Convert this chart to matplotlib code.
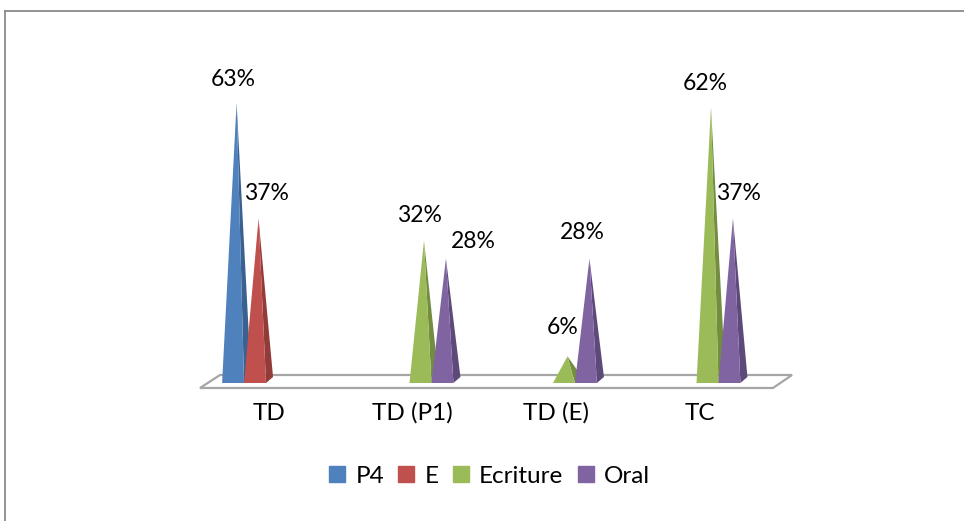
import numpy as np
import matplotlib.pyplot as plt
from matplotlib.patches import Polygon
from matplotlib.lines import Line2D

plt.rcParams['font.family'] = ['Lato', 'DejaVu Sans']

# Data
categories = ['TD', 'TD (P1)', 'TD (E)', 'TC']
series_names = ['P4', 'E', 'Ecriture', 'Oral']
p4 = [63, np.nan, np.nan, np.nan]
e = [37, np.nan, np.nan, np.nan]
ecriture = [np.nan, 32, 6, 62]
oral = [np.nan, 28, 28, 37]
values = [p4, e, ecriture, oral]

# Styles
face_colors = ['#4F81BD', '#C0504D', '#9BBB59', '#8064A2']
side_colors = ['#3A6190', '#923B39', '#738C40', '#5E4A7A']
slot = 0.153        # pyramid width in category units
depth_x = 0.049     # 3d depth offset (x, category units)
depth_y = 1.35      # 3d depth offset (y, percent units)

# label nudges in pixels (dx, dy above apex)
label_nudge = {
    (0, 0): (-3.5, 23), (1, 0): (8, 25),
    (2, 1): (-4.5, 25), (3, 1): (27, 17),
    (2, 2): (-5, 29), (3, 2): (-7, 26),
    (2, 3): (-6, 24), (3, 3): (5.5, 25),
}

fig = plt.figure(figsize=(9.64, 5.21), dpi=100)
ax = fig.add_axes([0, 0, 1, 1])
# pixel mapping: category 0 at x=266 px, 143.5 px per category,
# baseline at y=383 px, 4.45 px per percent
px_per_cat = 143.5
px_per_pct = 4.45
ax.set_xlim(-266 / px_per_cat, (964 - 266) / px_per_cat)
ax.set_ylim(-(521 - 383) / px_per_pct, 383 / px_per_pct)
ax.axis('off')

# outer border
fig.add_artist(Line2D([5 / 964, 5 / 964], [0, 1 - 11 / 521], color='#8A8A8A', lw=1.3))
fig.add_artist(Line2D([5 / 964, 1], [1 - 11 / 521, 1 - 11 / 521], color='#8A8A8A', lw=1.3))

# floor
n = len(categories)
floor = Polygon([(-0.46, -1.12), (-0.32, 1.8), (n - 1 + 0.666, 1.8), (n - 1 + 0.533, -1.12)],
                closed=True, facecolor='white', edgecolor='#A6A6A6', lw=1.6, zorder=1)
ax.add_patch(floor)

# pyramids
for j, vals in enumerate(values):
    for i, v in enumerate(vals):
        if np.isnan(v):
            continue
        x0 = i + (j - 2) * slot
        x1 = x0 + slot
        apex = ((x0 + x1) / 2 + depth_x / 2, v)
        z = 2 + i * 4 + j
        side = Polygon([(x1, 0), (x1 + depth_x, depth_y), apex], closed=True,
                       facecolor=side_colors[j], edgecolor='none', zorder=z)
        front = Polygon([(x0, 0), (x1, 0), apex], closed=True,
                        facecolor=face_colors[j], edgecolor='none', zorder=z)
        ax.add_patch(side)
        ax.add_patch(front)
        ndx, ndy = label_nudge.get((j, i), (0, 25))
        ax.text(apex[0] + ndx / px_per_cat, v + ndy / px_per_pct, f'{int(v)}%',
                ha='center', va='center', fontsize=16.5, color='black', zorder=30)

# category labels
for i, c in enumerate(categories):
    ax.text(i + 3 / px_per_cat, -30 / px_per_pct, c, ha='center', va='center',
            fontsize=17.5, color='black')

# legend
handles = [Line2D([], [], marker='s', linestyle='none', markersize=11,
                  markerfacecolor=col, markeredgecolor=col) for col in face_colors]
fig.legend(handles, series_names, loc='center', bbox_to_anchor=(0.508, 0.086),
           ncol=4, frameon=False, fontsize=17.5, handlelength=0.62,
           handletextpad=0.45, columnspacing=0.6)

fig.savefig('out.png', dpi=100)
